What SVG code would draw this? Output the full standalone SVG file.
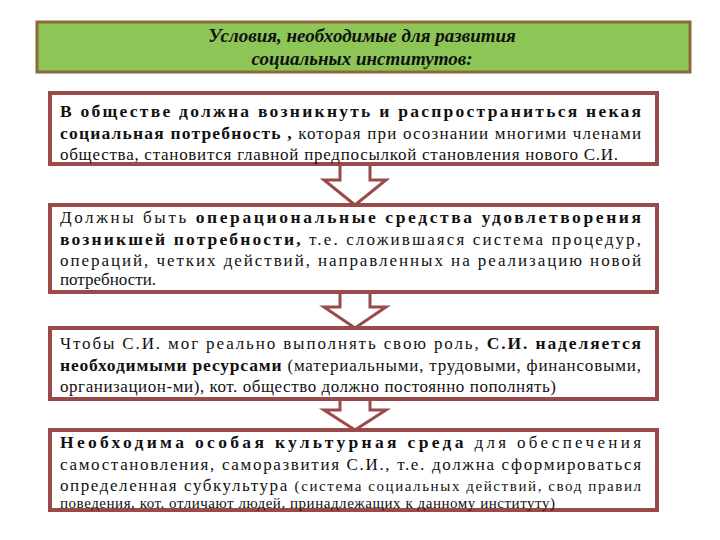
<svg xmlns="http://www.w3.org/2000/svg" width="720" height="540" viewBox="0 0 720 540">
<style>
.box{fill:#fff;stroke:#9b4a4a;stroke-width:4}
text{font-family:'Liberation Serif','Times New Roman','DejaVu Serif',serif;font-size:17px;fill:#111}
.b{font-weight:bold;font-size:17.5px}
.s{font-size:15px}
.h{font-style:italic;font-weight:bold;font-size:19px}
.arr{fill:#fff;stroke:#9b4a4a;stroke-width:3;stroke-linejoin:miter}
</style>
<rect width="720" height="540" fill="#fff"/>
<g id="header">
<rect x="37" y="22" width="653" height="50" fill="#8dc556" stroke="#8a6a3a" stroke-width="3"/>
<text class="h" x="362" y="42" text-anchor="middle">Условия, необходимые для развития</text>
<text class="h" x="362" y="65" text-anchor="middle">социальных институтов:</text>
</g>
<g id="connectors">
<path class="arr" d="M340 164 V180 H324 L355 205 L386 180 H370 V164"/>
<path class="arr" d="M340 291 V307 H324 L355 328 L386 307 H370 V291"/>
<path class="arr" d="M340 399 V410 H324 L355 430 L386 410 H370 V399"/>
</g>
<g id="n1">
<rect class="box" x="50" y="93" width="607" height="71"/>
<text x="60" y="117" textLength="581" lengthAdjust="spacing"><tspan class="b">В обществе должна возникнуть и распространиться некая</tspan></text>
<text x="60" y="139" textLength="581" lengthAdjust="spacing"><tspan class="b">социальная потребность</tspan><tspan class="b"> , </tspan>которая при осознании многими членами</text>
<text x="60" y="160" textLength="558" lengthAdjust="spacing">общества, становится главной предпосылкой становления нового С.И.</text>
</g>
<g id="n2">
<rect class="box" x="50" y="205" width="607" height="87"/>
<text x="60" y="223" textLength="581" lengthAdjust="spacing">Должны быть <tspan class="b">операциональные средства удовлетворения</tspan></text>
<text x="60" y="245" textLength="581" lengthAdjust="spacing"><tspan class="b">возникшей потребности,</tspan> т.е. сложившаяся система процедур,</text>
<text x="60" y="266" textLength="581" lengthAdjust="spacing">операций, четких действий, направленных на реализацию новой</text>
<text x="60" y="285">потребности.</text>
</g>
<g id="n3">
<rect class="box" x="50" y="328" width="607" height="71"/>
<text x="60" y="349" textLength="581" lengthAdjust="spacing">Чтобы С.И. мог реально выполнять свою роль, <tspan class="b">С.И. наделяется</tspan></text>
<text x="60" y="371" textLength="581" lengthAdjust="spacing"><tspan class="b">необходимыми ресурсами</tspan> (материальными, трудовыми, финансовыми,</text>
<text x="60" y="392" textLength="496" lengthAdjust="spacing">организацион-ми), кот. общество должно постоянно пополнять)</text>
</g>
<g id="n4">
<rect class="box" x="50" y="430" width="607" height="80"/>
<text x="60" y="448" textLength="581" lengthAdjust="spacing"><tspan class="b">Необходима особая культурная среда</tspan> для обеспечения</text>
<text x="60" y="470" textLength="581" lengthAdjust="spacing">самостановления, саморазвития С.И., т.е. должна сформироваться</text>
<text x="60" y="491" textLength="581" lengthAdjust="spacing">определенная субкультура <tspan class="s">(система социальных действий, свод правил</tspan></text>
<text class="s" x="60" y="508" textLength="495" lengthAdjust="spacing">поведения, кот. отличают людей, принадлежащих к данному институту)</text>
</g>
</svg>
